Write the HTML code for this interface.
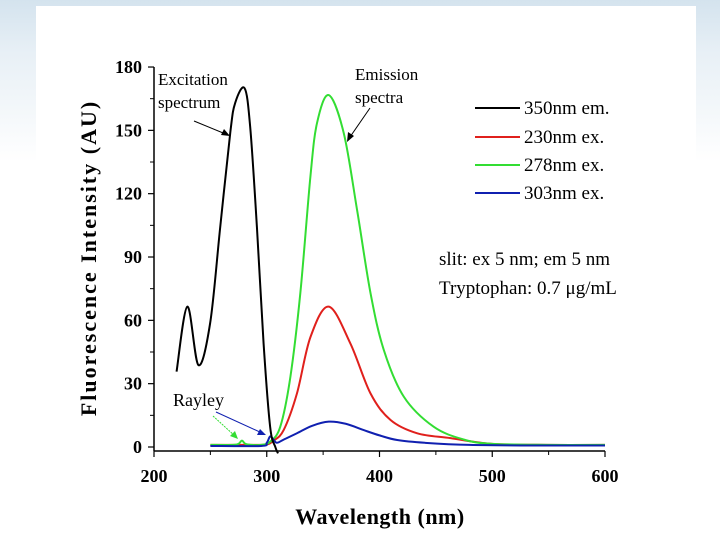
<!DOCTYPE html>
<html><head><meta charset="utf-8">
<style>
html,body{margin:0;padding:0;width:720px;height:540px;overflow:hidden}
body{background:linear-gradient(180deg,#d4e3ee 0%,#e8f0f6 10%,#f3f7fa 20%,#ffffff 30%);font-family:"Liberation Serif",serif}
svg{position:absolute;left:0;top:0}
</style></head><body>
<svg width="720" height="540">
<rect x="36" y="6" width="660" height="534" fill="#fff"/>
<g id="axes"></g>
<g id="series"></g>
<g font-size="19" fill="#000">
<line x1="475" y1="108" x2="520" y2="108" stroke="#000" stroke-width="2"/>
<text x="524" y="114">350nm em.</text>
<line x1="475" y1="137" x2="520" y2="137" stroke="#e0201c" stroke-width="2"/>
<text x="524" y="143">230nm ex.</text>
<line x1="475" y1="165" x2="520" y2="165" stroke="#33dd33" stroke-width="2"/>
<text x="524" y="171">278nm ex.</text>
<line x1="475" y1="193" x2="520" y2="193" stroke="#1020b0" stroke-width="2"/>
<text x="524" y="199">303nm ex.</text>
</g>
<text x="439" y="265" font-size="19">slit: ex 5 nm; em 5 nm</text>
<text x="439" y="294" font-size="19">Tryptophan: 0.7 μg/mL</text>
<text x="158" y="85" font-size="17">Excitation</text>
<text x="158" y="108" font-size="17">spectrum</text>
<line x1="194" y1="121" x2="228" y2="135" stroke="#000" stroke-width="1"/>
<polygon points="230,136 221,135 224,129" fill="#000"/>
<text x="355" y="80" font-size="17">Emission</text>
<text x="355" y="103" font-size="17">spectra</text>
<line x1="370" y1="108" x2="350" y2="137" stroke="#000" stroke-width="1"/>
<polygon points="347,142 348,132 354,136" fill="#000"/>
<text x="173" y="406" font-size="18">Rayley</text>
<line x1="216" y1="412" x2="262" y2="433" stroke="#1020b0" stroke-width="1"/>
<polygon points="266,435 257,435 260,429" fill="#1020b0"/>
<line x1="213" y1="416" x2="235" y2="436" stroke="#33dd33" stroke-width="1" stroke-dasharray="2,1"/>
<polygon points="238,439 230,436 235,431" fill="#33dd33"/>
<text x="380" y="524" font-size="22" font-weight="bold" text-anchor="middle" letter-spacing="0.5">Wavelength (nm)</text>
<text transform="translate(96,258) rotate(-90)" font-size="22" font-weight="bold" text-anchor="middle" letter-spacing="2">Fluorescence Intensity (AU)</text>
</svg>
<script>
const xTicks=[200,300,400,500,600];
const yTicks=[0,30,60,90,120,150,180];
const blackX=[220,229.6,239.4,249.8,258.7,267.6,272,280.3,285.3,291.3,297.2,303,307.6,310];
const blackY=[35.7,66.5,38.8,58.7,104,148.7,163,170,151.7,104,49,9.6,0,-3];
const greenX=[250,270,275,278,281,286,295,303,312,320.9,329.8,338.7,344.6,355,368.3,380.2,392,403.8,421.6,448,475,500,550,600];
const greenY=[1,1,1.5,3,1.5,1,1,2.5,9.6,33,73,128,153.5,166.7,148.7,112,73,46,23.8,9.6,3.5,1.5,1,1];
const redX=[250,290,300,306,315,326.8,338.7,355,374.2,392,409.8,433.5,463,500,550,600];
const redY=[1,1,1.2,3,8,25.4,52,66.5,49,25.4,12.8,6.5,4.2,1.5,1,1];
const blueX=[250,295,300,303,306,309,315,326.8,340,355,370,386,400,415.7,440,480,550,600];
const blueY=[0.5,0.5,2,5,3.5,2,3.5,6.5,10,12,11,8,5.5,3.3,2,1,0.7,0.7];
const NS='http://www.w3.org/2000/svg';
const xS=v=>154+(v-200)*1.1275;
const yS=v=>447-v*2.111;
const ax=document.getElementById('axes');
function mk(t,a,p){const e=document.createElementNS(NS,t);for(const k in a)e.setAttribute(k,a[k]);p.appendChild(e);return e;}
let yl=mk('line',{x1:154,y1:yS(180),x2:154,y2:451,stroke:'#000','stroke-width':1.5},ax);


let xl=mk('line',{x1:154,y1:451,x2:xS(600),y2:451,stroke:'#000','stroke-width':1.5},ax);


for(let i=0;i<xTicks.length;i++){
  const v=xTicks[i];
  mk('line',{x1:xS(v),y1:451,x2:xS(v),y2:457,stroke:'#000','stroke-width':1.2},ax);
  if(i<xTicks.length-1) mk('line',{x1:xS(v+50),y1:451,x2:xS(v+50),y2:455,stroke:'#000','stroke-width':1},ax);
  const t=mk('text',{x:xS(v),y:482,'font-size':18,'font-weight':'bold','text-anchor':'middle'},ax);
  t.textContent=v;
  
  
}
for(let i=0;i<yTicks.length;i++){
  const v=yTicks[i];
  mk('line',{x1:148,y1:yS(v),x2:154,y2:yS(v),stroke:'#000','stroke-width':1.2},ax);
  if(i<yTicks.length-1) mk('line',{x1:150,y1:yS(v+15),x2:154,y2:yS(v+15),stroke:'#000','stroke-width':1},ax);
  const t=mk('text',{x:142,y:yS(v)+6,'font-size':18,'font-weight':'bold','text-anchor':'end'},ax);
  t.textContent=v;
  
  
}
const sg=document.getElementById('series');
function path(xs,ys){
  const p=xs.map((x,i)=>[xS(x),yS(ys[i])]);
  let d='M'+p[0][0]+','+p[0][1];
  for(let i=0;i<p.length-1;i++){
    const p0=p[i-1]||p[i],p1=p[i],p2=p[i+1],p3=p[i+2]||p2;
    d+=' C'+(p1[0]+(p2[0]-p0[0])/6)+','+(p1[1]+(p2[1]-p0[1])/6)+' '+(p2[0]-(p3[0]-p1[0])/6)+','+(p2[1]-(p3[1]-p1[1])/6)+' '+p2[0]+','+p2[1];
  }
  return d;
}
function line(xs,ys,c,n){
  const e=mk('path',{d:path(xs,ys),fill:'none',stroke:c,'stroke-width':2,'stroke-linejoin':'round'},sg);
  
  
}
line(redX,redY,'#e0201c','series-230nm-ex');
line(greenX,greenY,'#33dd33','series-278nm-ex');
line(blueX,blueY,'#1020b0','series-303nm-ex');
line(blackX,blackY,'#000','series-350nm-em');
</script>
</body></html>
